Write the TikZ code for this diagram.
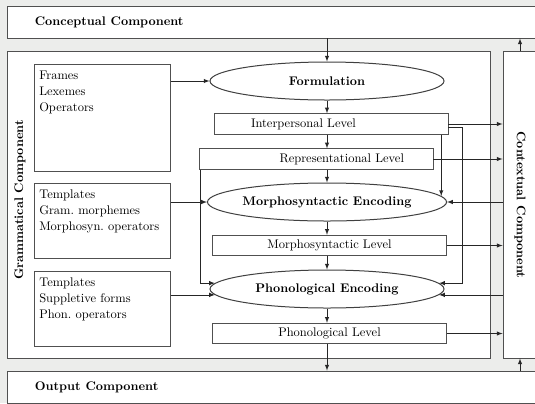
\documentclass[tikz,border=0pt]{standalone}
\usepackage{tikz}
\usepackage{xcolor}
\usetikzlibrary{shapes.geometric}
\definecolor{bg-gray}{RGB}{236,237,235}
\definecolor{line-gray}{RGB}{80,80,80}
\tikzset{
    comp-box/.style = {draw=line-gray, fill=white, line width=0.7pt, rectangle, inner sep=0pt},
    comp-title/.style = {font=\bfseries, inner sep=0pt},
    src-box/.style = {draw=line-gray, fill=white, line width=0.7pt, rectangle, anchor=north west, minimum width=108.8pt, inner sep=0pt},
    src-text/.style = {anchor=north west, align=left, inner xsep=4pt, inner ysep=5pt, font=\linespread{1.07}\selectfont},
    level-box/.style = {draw=line-gray, fill=white, line width=0.7pt, rectangle, minimum width=187.2pt, minimum height=16.4pt, inner sep=0pt},
    proc-ellipse/.style = {draw=black!75, fill=white, line width=0.8pt, ellipse, minimum width=187.2pt, minimum height=30.4pt, inner sep=0pt, font=\bfseries},
    flow/.style = {-latex, draw=black!85, line width=0.6pt},
}

\begin{document}
\begin{tikzpicture}[x=0.8pt, y=-0.8pt]
\useasboundingbox (0,0) rectangle (535,403);
\clip (0,0) rectangle (535,403);
\fill[bg-gray] (0,0) rectangle (535,403);

% components
\node[comp-box, minimum width=430.4pt, minimum height=25.6pt] (concept) at (276,22) {};
\node[comp-title, anchor=west] (concept-txt) at ([xshift=22.4pt]concept.west) {Conceptual Component};
\node[comp-box, minimum width=386.4pt, minimum height=245.6pt] (gram) at (248.5,204.5) {};
\node[comp-title, rotate=90] (gram-txt) at (20,200) {Grammatical Component};
\node[comp-box, minimum width=27.2pt, minimum height=245.6pt] (context) at (520,204.5) {};
\node[comp-title, rotate=-90] (context-txt) at (520,205) {Contextual Component};
\node[comp-box, minimum width=430.4pt, minimum height=25.6pt] (output) at (276,387) {};
\node[comp-title, anchor=west] (output-txt) at ([xshift=22.4pt]output.west) {Output Component};

% stores on the left
\node[src-box, minimum height=85.6pt] (frames) at (34,64) {};
\node[src-text] (frames-txt) at (frames.north west) {Frames\\Lexemes\\Operators};
\node[src-box, minimum height=60pt] (gramsrc) at (34,183) {};
\node[src-text] (gramsrc-txt) at (gramsrc.north west) {Templates\\Gram.\ morphemes\\Morphosyn.\ operators};
\node[src-box, minimum height=60pt] (phonsrc) at (34,271) {};
\node[src-text] (phonsrc-txt) at (phonsrc.north west) {Templates\\Suppletive forms\\Phon.\ operators};

% operations and levels
\node[proc-ellipse] (form) at (327,81) {Formulation};
\node[level-box, text width=128pt, inner xsep=29.6pt, align=left] (inter) at (331,124) {Interpersonal Level};
\node[level-box, text width=140.8pt, inner xsep=23.2pt, align=right] (repr) at (316,159) {Representational Level};
\node[proc-ellipse] (morph) at (327,202) {Morphosyntactic Encoding};
\node[level-box] (mslev) at (329.5,245.5) {Morphosyntactic Level};
\node[proc-ellipse] (phon) at (327,289) {Phonological Encoding};
\node[level-box] (phlev) at (329.5,333.5) {Phonological Level};

% main column
\draw[flow] (form.north |- concept.south) -- (form.north);
\draw[flow] (form.south) -- (form.south |- inter.north);
\draw[flow] (inter.south -| form.south) -- (repr.north -| form.south);
\draw[flow] (repr.south -| morph.north) -- (morph.north);
\draw[flow] (morph.south) -- (morph.south |- mslev.north);
\draw[flow] (mslev.south -| phon.north) -- (phon.north);
\draw[flow] (phon.south) -- (phon.south |- phlev.north);
\draw[flow] (phlev.south -| phon.south) -- (phon.south |- output.north);

% stores into operations
\draw[flow] (form.west -| frames.east) -- (form.west);
\draw[flow] (morph.west -| gramsrc.east) -- (morph.west);
\draw[flow] (phon.183 -| phonsrc.east) -- (phon.183);

% levels feeding later operations
\draw[flow] (inter.south -| morph.3) -- (morph.3);
\draw[flow] ([yshift=-2.4pt]inter.east) -- ++(14,0) |- (phon.3);
\draw[flow] ([xshift=1.6pt]repr.south west) |- (phon.177);

% to and from the contextual component
\draw[flow] (inter.east) -- (context.west |- inter.east);
\draw[flow] (repr.east) -- (context.west |- repr.east);
\draw[flow] (context.west |- morph.east) -- (morph.east);
\draw[flow] (mslev.east) -- (context.west |- mslev.east);
\draw[flow] (context.west |- phon.-3) -- (phon.-3);
\draw[flow] (phlev.east) -- (context.west |- phlev.east);
\draw[flow] (context.north) -- (context.north |- concept.south);
\draw[flow] (output.north -| context.south) -- (context.south);
\end{tikzpicture}
\end{document}
